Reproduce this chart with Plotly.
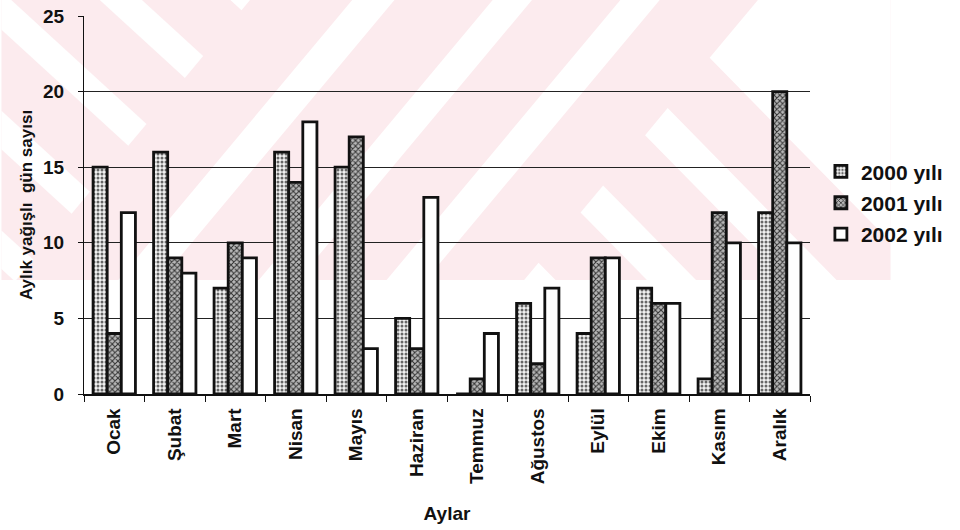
import plotly.graph_objects as go

# ---------------- data ----------------
months = ["Ocak", "Şubat", "Mart", "Nisan", "Mayıs", "Haziran",
          "Temmuz", "Ağustos", "Eylül", "Ekim", "Kasım", "Aralık"]
y2000 = [15, 16, 7, 16, 15, 5, 0, 6, 4, 7, 1, 12]
y2001 = [4, 9, 10, 14, 17, 3, 1, 2, 9, 6, 12, 20]
y2002 = [12, 8, 9, 18, 3, 13, 4, 7, 9, 6, 10, 10]
series_names = ["2000 yılı", "2001 yılı", "2002 yılı"]
y_ticks = [0, 5, 10, 15, 20, 25]

# ---------------- layout geometry ----------------
W, H = 960, 530
L, R, T, B = 84, 137, 16, 136
PW, PH = W - L - R, H - T - B

def to_paper(pt):
    x, y = pt
    return ((x - L) / PW, (H - B - y) / PH)

def clip(poly, a, b, c):
    """keep a*x + b*y <= c"""
    out = []
    n = len(poly)
    for i in range(n):
        P, Q = poly[i], poly[(i + 1) % n]
        fp = a * P[0] + b * P[1] - c
        fq = a * Q[0] + b * Q[1] - c
        if fp <= 0:
            out.append(P)
        if (fp <= 0) != (fq <= 0):
            t = fp / (fp - fq)
            out.append((P[0] + t * (Q[0] - P[0]), P[1] + t * (Q[1] - P[1])))
    return out

def path_of(poly):
    pts = [to_paper(p) for p in poly]
    return "M " + " L ".join(f"{x:.5f},{y:.5f}" for x, y in pts) + " Z"

# faint background watermark (pink chevron stripes)
BOX = [(0, 0), (905, 0), (905, 280), (0, 280)]
PINK = "#fcebee"
shapes = [dict(type="path", xref="paper", yref="paper", layer="below",
               path=path_of(BOX), fillcolor=PINK, line=dict(width=0))]
whites = []
for k in range(-1, 4):
    a_k, b_k = 100 - 133 * k, 143 - 133 * k
    p = clip(BOX, 1, 0.85, 253)
    p = clip(p, 0.9, -1, 0.9 * b_k)
    p = clip(p, -0.9, 1, -0.9 * a_k)
    whites.append(p)
for c1, c2 in [(357, 400), (500, 540), (630, 670)]:
    p = clip(BOX, 1, 0.85, 770)
    p = clip(p, -1, -0.85, -c1)
    p = clip(p, 1, 0.85, c2)
    whites.append(p)
for d1, d2 in [(-570, -520), (-427, -377), (-284, -234)]:
    p = clip(BOX, -1, -0.85, -770)
    p = clip(p, -1, 1, d2)
    p = clip(p, 1, -1, -d1)
    whites.append(p)
p = clip(BOX, -1, -0.85, -770)
p = clip(p, -1, 1, -663)
whites.append(p)
for p in whites:
    if len(p) >= 3:
        shapes.append(dict(type="path", xref="paper", yref="paper", layer="below",
                           path=path_of(p), fillcolor="white", line=dict(width=0)))

# ---------------- traces ----------------
FONT = "Liberation Sans"
TXT = "#111111"
styles = [
    dict(shape=".", fgcolor="#666666", bgcolor="#f2f2f2", size=4, solidity=0.45),
    dict(shape="x", fgcolor="#333333", bgcolor="#b8b8b8", size=4, solidity=0.45),
    None,
]
fig = go.Figure()
for i, (name, vals, st) in enumerate(zip(series_names, [y2000, y2001, y2002], styles)):
    marker = dict(color="white", line=dict(color="#111111", width=2.8))
    if st is not None:
        marker["pattern"] = dict(fillmode="replace", **st)
    fig.add_trace(go.Bar(x=months, y=vals, name=name, marker=marker,
                         legendgroup=f"g{i}"))

fig.update_layout(
    width=W, height=H, autosize=False,
    margin=dict(l=L, r=R, t=T, b=B, pad=0),
    paper_bgcolor="white", plot_bgcolor="rgba(0,0,0,0)",
    barmode="group", bargap=0.3, bargroupgap=0,
    font=dict(family=FONT, color=TXT, size=19, weight="bold"),
    shapes=shapes,
    legend=dict(x=1.015, xanchor="left", y=0.642, yanchor="top",
                font=dict(family=FONT, size=21, color=TXT, weight="bold"),
                bgcolor="rgba(0,0,0,0)", itemwidth=30,
                traceorder="grouped", tracegroupgap=1),
    xaxis=dict(
        title=dict(text="Aylar", standoff=23,
                   font=dict(family=FONT, size=19, color=TXT, weight="bold")),
        tickangle=-90, tickson="boundaries", ticks="outside", ticklen=6,
        tickcolor="#111", showline=True, linecolor="#111", linewidth=1.5,
        showgrid=False, automargin=False, ticklabelstandoff=5,
        tickfont=dict(family=FONT, size=19, color=TXT, weight="bold"),
    ),
    yaxis=dict(
        title=dict(text="Aylık yağışlı  gün sayısı", standoff=6,
                   font=dict(family=FONT, size=17, color=TXT, weight="bold")),
        range=[0, 25], tickvals=y_ticks, ticks="outside", ticklen=5,
        tickcolor="#111", showline=True, linecolor="#111", linewidth=1.2,
        showgrid=True, gridcolor="#222222", gridwidth=1, zeroline=False,
        automargin=False, ticklabelstandoff=10,
        tickfont=dict(family=FONT, size=19, color=TXT, weight="bold"),
    ),
)

fig.write_html("out.html")
